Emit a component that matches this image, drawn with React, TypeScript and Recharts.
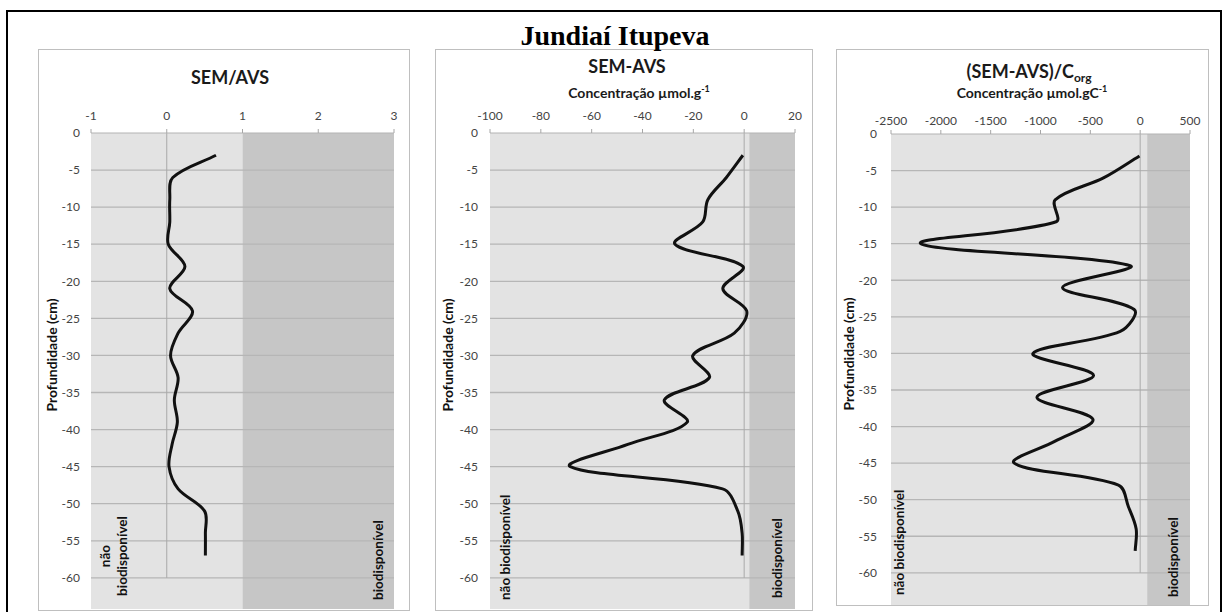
import React from 'react';
import { LineChart, Line, XAxis, YAxis, ReferenceArea, ReferenceLine } from 'recharts';

// sampling depths (cm), one core slice every 3 cm
const depths = [-3, -6, -9, -12, -15, -18, -21, -24, -27, -30, -33, -36, -39, -42, -45, -48, -51, -54, -57];

// SEM/AVS ratio
const semAvsRatio = [0.65, 0.08, 0.04, 0.04, 0.02, 0.24, 0.04, 0.34, 0.15, 0.05, 0.15, 0.1, 0.14, 0.07, 0.03, 0.15, 0.5, 0.51, 0.51];

// SEM-AVS (µmol/g)
const semMinusAvs = [-0.5, -7, -14.3, -16.3, -27.2, -0.5, -8.4, 1, -3.9, -20.2, -13.7, -31.4, -22.4, -45.8, -68.4, -8.5, -2.5, -0.8, -0.8];

// (SEM-AVS)/Corg (µmol/gC)
const semMinusAvsCorg = [-7, -368, -853, -843, -2200, -100, -779, -60, -200, -1076, -468, -1036, -474, -853, -1264, -218, -117, -40, -50];

const ratioTicks = [-1, 0, 1, 2, 3];
const diffTicks = [-100, -80, -60, -40, -20, 0, 20];
const diffCorgTicks = [-2500, -2000, -1500, -1000, -500, 0, 500];
const depthTicks = [0, -5, -10, -15, -20, -25, -30, -35, -40, -45, -50, -55, -60];

// where the "biodisponível" band starts on each x axis
const ratioThreshold = 1;
const diffThreshold = 2;
const diffCorgThreshold = 70;

const rows = depths.map((depth, i) => ({
  depth,
  ratio: semAvsRatio[i],
  diff: semMinusAvs[i],
  diffCorg: semMinusAvsCorg[i],
}));

const FONT = 'Lato, "DejaVu Sans", sans-serif';
const LIGHT = '#e3e3e3';
const DARK = '#c6c6c6';
const GRID = '#b6b6b6';

// smoothed line through every point; the tangent arms are weighted by the
// neighbouring segment lengths so long jumps do not overshoot
const smoothCurve = (context: any) => {
  let pts: [number, number][] = [];
  const dist = (a: [number, number], b: [number, number]) => Math.hypot(b[0] - a[0], b[1] - a[1]);
  return {
    areaStart() {},
    areaEnd() {},
    lineStart() {
      pts = [];
    },
    point(x: number, y: number) {
      pts.push([+x, +y]);
    },
    lineEnd() {
      if (!pts.length) return;
      context.moveTo(pts[0][0], pts[0][1]);
      for (let i = 0; i < pts.length - 1; i++) {
        const p0 = pts[Math.max(i - 1, 0)];
        const p1 = pts[i];
        const p2 = pts[i + 1];
        const p3 = pts[Math.min(i + 2, pts.length - 1)];
        const d01 = dist(p0, p1);
        const d12 = dist(p1, p2);
        const d23 = dist(p2, p3);
        const a = d01 + d12 > 0 ? d12 / (d01 + d12) / 3 : 0;
        const b = d12 + d23 > 0 ? d12 / (d12 + d23) / 3 : 0;
        context.bezierCurveTo(
          p1[0] + (p2[0] - p0[0]) * a,
          p1[1] + (p2[1] - p0[1]) * a,
          p2[0] - (p3[0] - p1[0]) * b,
          p2[1] - (p3[1] - p1[1]) * b,
          p2[0],
          p2[1]
        );
      }
    },
  };
};

type PanelSpec = {
  dataKey: string;
  ticks: number[];
  threshold: number;
  plot: [number, number, number, number];
  yMin: number;
  xTickGap: number;
  yTickGap: number;
};

const Panel = ({ spec }: { spec: PanelSpec }) => {
  const [pl, pt, pr, pb] = spec.plot;
  const yW = 45;
  const xH = 30;
  const padR = 24;
  const w = yW + (pr - pl) + padR;
  const h = xH + (pb - pt);
  const lo = spec.ticks[0];
  const hi = spec.ticks[spec.ticks.length - 1];
  const tickStyle = { fontSize: 12, fill: '#444', fontFamily: FONT };
  return (
    <div style={{ position: 'absolute', left: pl - yW, top: pt - xH, width: w, height: h }}>
      <LineChart width={w} height={h} data={rows} layout="vertical" margin={{ top: 0, right: padR, bottom: 0, left: 0 }}>
        <XAxis
          type="number"
          orientation="top"
          domain={[lo, hi]}
          ticks={spec.ticks}
          interval={0}
          height={xH}
          tickSize={4}
          tickMargin={spec.xTickGap}
          tick={tickStyle}
          tickLine={{ stroke: '#a6a6a6' }}
          axisLine={{ stroke: '#b3b3b3' }}
        />
        <YAxis
          type="number"
          dataKey="depth"
          domain={[spec.yMin, 0]}
          reversed
          ticks={depthTicks}
          interval={0}
          width={yW}
          tickSize={0}
          tickMargin={spec.yTickGap}
          axisLine={false}
          tickLine={false}
          tick={tickStyle}
        />
        <ReferenceArea x1={lo} x2={spec.threshold} fill={LIGHT} fillOpacity={1} strokeOpacity={0} />
        <ReferenceArea x1={spec.threshold} x2={hi} fill={DARK} fillOpacity={1} strokeOpacity={0} />
        {depthTicks.slice(1).map((d) => (
          <ReferenceLine key={d} y={d} stroke={GRID} strokeWidth={1.3} />
        ))}
        <ReferenceLine segment={[{ x: 0, y: 0 }, { x: 0, y: -60 }]} stroke="#a9a9a9" />
        <Line
          dataKey={spec.dataKey}
          type={smoothCurve as any}
          stroke="#111"
          strokeWidth={3}
          dot={false}
          activeDot={false}
          isAnimationActive={false}
        />
      </LineChart>
    </div>
  );
};

const panels: PanelSpec[] = [
  { dataKey: 'ratio', ticks: ratioTicks, threshold: ratioThreshold, plot: [91, 133, 394, 609], yMin: -64.2, xTickGap: 9, yTickGap: 11 },
  { dataKey: 'diff', ticks: diffTicks, threshold: diffThreshold, plot: [490, 133, 795, 609], yMin: -64.2, xTickGap: 9, yTickGap: 12 },
  { dataKey: 'diffCorg', ticks: diffCorgTicks, threshold: diffCorgThreshold, plot: [891, 134, 1190, 605], yMin: -64.4, xTickGap: 5, yTickGap: 14 },
];

const frames = [
  [38, 49, 410, 611],
  [435, 49, 813, 611],
  [836, 49, 1209, 606],
];

// rotated captions for the two bands: [baseline x, y, text, anchor]
const zoneCaptions: [number, number, string, 'start' | 'middle'][] = [
  [110, 556, 'não', 'middle'],
  [127, 556, 'biodisponível', 'middle'],
  [383, 600, 'biodisponível', 'start'],
  [510, 600, 'não biodisponível', 'start'],
  [782, 598, 'biodisponível', 'start'],
  [904, 595, 'não biodisponível', 'start'],
  [1178, 597, 'biodisponível', 'start'],
];

const Rotated = ({ x, y, anchor, size, children }: any) => (
  <text
    x={x}
    y={y}
    transform={`rotate(-90 ${x} ${y})`}
    textAnchor={anchor}
    fontFamily={FONT}
    fontWeight="bold"
    fontSize={size}
    fill="#111"
  >
    {children}
  </text>
);

export default function App() {
  return (
    <div style={{ position: 'absolute', left: 0, top: 0, width: 1225, height: 612, overflow: 'hidden', background: '#fff' }}>
      <div style={{ position: 'absolute', left: 6, top: 10, width: 1212, height: 620, border: '2px solid #000' }} />
      {frames.map(([l, t, r, b], i) => (
        <div
          key={i}
          style={{ position: 'absolute', left: l, top: t, width: r - l - 2, height: b - t - 2, border: '1px solid #bfbfbf', background: '#fff' }}
        />
      ))}
      {panels.map((p) => (
        <Panel key={p.dataKey} spec={p} />
      ))}
      <svg width={1225} height={612} style={{ position: 'absolute', left: 0, top: 0, pointerEvents: 'none' }}>
        <text x={615} y={45} textAnchor="middle" fontFamily='"Liberation Serif", serif' fontWeight="bold" fontSize={28} fill="#000">
          Jundiaí Itupeva
        </text>
        <g fontFamily={FONT} fontWeight="bold" fill="#1a1a1a">
          <text x={230} y={84} textAnchor="middle" fontSize={18}>SEM/AVS</text>
          <text x={627} y={73} textAnchor="middle" fontSize={18}>SEM-AVS</text>
          <text x={639} y={98} textAnchor="middle" fontSize={14}>
            Concentração µmol.g<tspan fontSize={9} dy={-6}>-1</tspan>
          </text>
          <text x={1029} y={78} textAnchor="middle" fontSize={18}>
            (SEM-AVS)/C<tspan fontSize={12} dy={4}>org</tspan>
          </text>
          <text x={1032} y={98} textAnchor="middle" fontSize={14}>
            Concentração µmol.gC<tspan fontSize={9} dy={-6}>-1</tspan>
          </text>
        </g>
        <Rotated x={57} y={355} anchor="middle" size={14}>Profundidade (cm)</Rotated>
        <Rotated x={453} y={355} anchor="middle" size={14}>Profundidade (cm)</Rotated>
        <Rotated x={854} y={354} anchor="middle" size={14}>Profundidade (cm)</Rotated>
        {zoneCaptions.map(([x, y, t, anchor], i) => (
          <Rotated key={i} x={x} y={y} anchor={anchor} size={13.5}>
            {t}
          </Rotated>
        ))}
      </svg>
    </div>
  );
}
